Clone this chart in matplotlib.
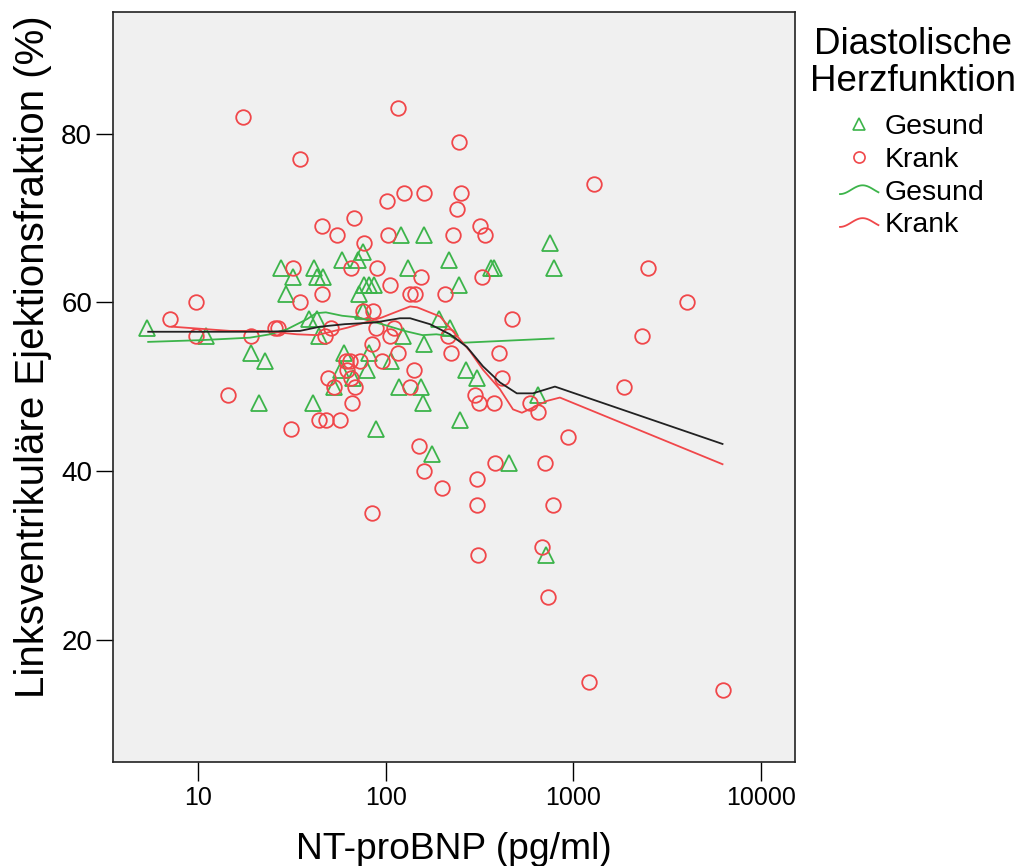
import numpy as np
import matplotlib
matplotlib.use('Agg')
import matplotlib.pyplot as plt
from matplotlib.lines import Line2D
from matplotlib.legend_handler import HandlerBase
from matplotlib.ticker import FixedLocator, NullLocator, FuncFormatter

# NT-proBNP (pg/ml) and LVEF (%) per group
gesund_x = [5.36, 11, 19.2, 22.8, 21, 27.7, 29.5, 32.2, 41.7, 43, 46.5, 39, 43, 44, 40.8,
            58.6, 71, 76, 60, 58, 72, 76.6, 81, 87, 76, 81, 79, 67, 53.3, 89,
            120, 160, 131.5, 217, 246, 363, 378, 753, 790, 193, 220, 123, 160, 107,
            118, 155, 158, 267, 305, 249, 177, 455, 652, 714]
gesund_y = [57, 56, 54, 53, 48, 64, 61, 63, 64, 63, 63, 58, 58, 56, 48,
            65, 65, 66, 54, 52, 61, 62, 62, 62, 59, 54, 52, 51, 50, 45,
            68, 68, 64, 65, 62, 64, 64, 67, 64, 58, 57, 56, 55, 53,
            50, 50, 48, 52, 51, 46, 42, 41, 49, 30]

krank_x = [17.3, 35, 116, 246, 1295, 101, 125, 160, 252, 239, 67.5, 45.5, 55, 103, 229,
           318, 338, 76.6, 32.2, 65.6, 89.8, 2508, 155, 327, 106, 134, 143, 208, 45.5, 9.8,
           35, 4017, 76, 86, 473, 7.1, 25.7, 26.6, 51.3, 89, 111, 9.8, 19.1, 47.2, 106,
           215, 2310, 84.5, 116, 224, 401, 61.6, 64.5, 73, 95, 62, 141, 49, 65.6, 415,
           53.3, 68.4, 135, 1857, 14.5, 299, 66.4, 315, 379, 585, 652, 44, 48, 57, 31.3,
           937, 151, 383, 708, 160, 305, 200, 305, 778, 84.5, 680, 309, 733, 1208, 6240]
krank_y = [82, 77, 83, 79, 74, 72, 73, 73, 73, 71, 70, 69, 68, 68, 68,
           69, 68, 67, 64, 64, 64, 64, 63, 63, 62, 61, 61, 61, 61, 60,
           60, 60, 59, 59, 58, 58, 57, 57, 57, 57, 57, 56, 56, 56, 56,
           56, 56, 55, 54, 54, 54, 53, 53, 53, 53, 52, 52, 51, 51, 51,
           50, 50, 50, 50, 49, 49, 48, 48, 48, 48, 47, 46, 46, 46, 45,
           44, 43, 41, 41, 40, 39, 38, 36, 36, 35, 31, 30, 25, 15, 14]

# fit lines
fit_all_x = [5.42, 10.2, 21.4, 34.9, 44.6, 60.6, 87.6, 119, 135, 172, 220, 271, 330,
             406, 500, 609, 798, 6240]
fit_all_y = [56.5, 56.5, 56.5, 56.6, 57.1, 57.4, 57.6, 58.1, 58.1, 57.4, 56.2, 54.7,
             52.4, 50.5, 49.2, 49.2, 50.0, 43.2]

fit_gesund_x = [5.42, 10.2, 18.9, 24.2, 29.8, 38.1, 42.5, 48.0, 58.5, 71.2, 85.5, 102.5,
                126, 157, 186, 220, 259, 785]
fit_gesund_y = [55.3, 55.5, 55.8, 56.2, 56.8, 58.0, 58.7, 58.8, 58.4, 58.2, 57.7, 57.2,
                56.6, 56.1, 56.2, 56.0, 55.2, 55.7]

fit_krank_x = [7.27, 14.8, 22.2, 33.6, 43.0, 62.9, 77.6, 95.6, 112, 135, 147, 195, 240,
               281, 330, 406, 477, 532, 609, 723, 848, 6240]
fit_krank_y = [57.1, 56.6, 56.6, 56.2, 56.1, 57.0, 57.6, 58.2, 58.8, 59.5, 59.4, 58.3,
               56.0, 54.2, 52.0, 49.7, 47.3, 46.9, 47.5, 48.3, 48.7, 40.8]

x_ticks = [10, 100, 1000, 10000]
y_ticks = [20, 40, 60, 80]

GREEN = '#3cb44a'
RED = '#f0474a'

plt.rcParams['font.family'] = ['Liberation Sans', 'DejaVu Sans']


class WaveHandler(HandlerBase):
    def create_artists(self, legend, orig_handle, xdescent, ydescent,
                       width, height, fontsize, trans):
        t = np.linspace(0, 1, 40)
        xs = -xdescent + t * width
        ys = -ydescent + height / 2 - 0.22 * height * np.cos(1.7 * np.pi * t)
        line = Line2D(xs, ys, color=orig_handle.get_color(),
                      linewidth=orig_handle.get_linewidth())
        line.set_transform(trans)
        return [line]


fig = plt.figure(figsize=(10.21, 8.66), dpi=100)
ax = fig.add_axes([0.1107, 0.1201, 0.668, 0.866])
ax.set_facecolor('#f0f0f0')

ax.plot(gesund_x, gesund_y, linestyle='none', marker='^', markersize=11,
        markerfacecolor='none', markeredgecolor=GREEN, markeredgewidth=1.3)
ax.plot(krank_x, krank_y, linestyle='none', marker='o', markersize=10.5,
        markerfacecolor='none', markeredgecolor=RED, markeredgewidth=1.3)

ax.plot(fit_gesund_x, fit_gesund_y, color=GREEN, linewidth=1.3)
ax.plot(fit_krank_x, fit_krank_y, color=RED, linewidth=1.3)
ax.plot(fit_all_x, fit_all_y, color='#222222', linewidth=1.3)

ax.set_xscale('log')
ax.set_xlim(3.52, 15200)
ax.set_ylim(5.5, 94.4)
ax.xaxis.set_major_locator(FixedLocator(x_ticks))
ax.xaxis.set_minor_locator(NullLocator())
ax.xaxis.set_major_formatter(FuncFormatter(lambda v, p: f'{v:.0f}'))
ax.set_yticks(y_ticks)

ax.tick_params(axis='x', length=14, width=1, direction='out', pad=3, labelsize=18)
ax.tick_params(axis='y', length=12, width=1, direction='out', pad=3, labelsize=20)
for s in ax.spines.values():
    s.set_linewidth(1.2)
    s.set_color('#222222')

ax.set_xlabel('NT-proBNP (pg/ml)', fontsize=26.8)
ax.set_ylabel('Linksventrikuläre Ejektionsfraktion (%)', fontsize=29)
ax.xaxis.set_label_coords(0.5, -0.093)
ax.yaxis.set_label_coords(-0.09, 0.54)

# legend title as separate text, entries centred beneath it
fig.text(913 / 1021, 1 - 63 / 866, 'Diastolische\nHerzfunktion', ha='center',
         va='center', fontsize=26.5, linespacing=1.1)

h_g = Line2D([], [], linestyle='none', marker='^', markersize=8,
             markerfacecolor='none', markeredgecolor=GREEN, markeredgewidth=1.2)
h_k = Line2D([], [], linestyle='none', marker='o', markersize=8,
             markerfacecolor='none', markeredgecolor=RED, markeredgewidth=1.2)
l_g = Line2D([], [], color=GREEN, linewidth=1.3)
l_k = Line2D([], [], color=RED, linewidth=1.3)

leg = fig.legend([h_g, h_k, l_g, l_k], ['Gesund', 'Krank', 'Gesund', 'Krank'],
                 fontsize=20.5, loc='upper left', bbox_to_anchor=(840 / 1021, 1 - 114 / 866),
                 frameon=False, handlelength=1.35, handletextpad=0.2, labelspacing=0.24,
                 borderaxespad=0, borderpad=0,
                 handler_map={l_g: WaveHandler(), l_k: WaveHandler()})

fig.savefig('out.png', dpi=100)
